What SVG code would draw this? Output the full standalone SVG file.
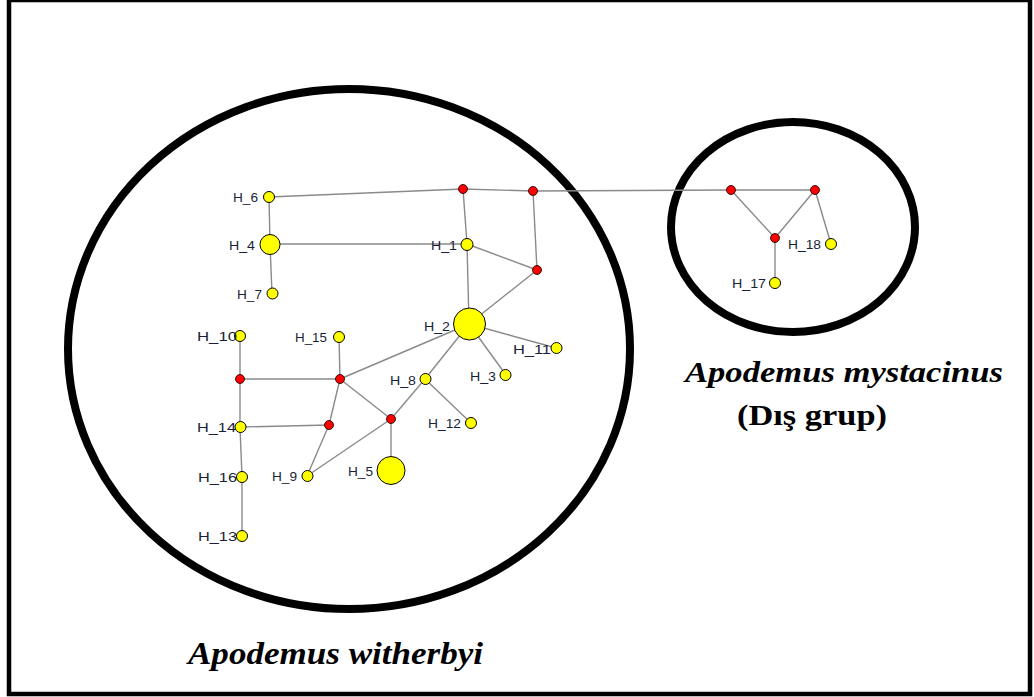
<svg xmlns="http://www.w3.org/2000/svg" width="1034" height="697" viewBox="0 0 1034 697">
<style>
.edge{stroke:#8a8a8a;stroke-width:1.4;fill:none}
.hap{fill:#ffff00;stroke:#000;stroke-width:1}
.med{fill:#ff0000;stroke:#000;stroke-width:0.8}
.lbl{font-family:"Liberation Sans",Arial,sans-serif;font-size:13.5px;fill:#1a1f38}
.title{font-family:"Liberation Serif","Times New Roman",serif;font-weight:bold;fill:#000}
.ring{fill:none;stroke:#000;stroke-width:8}
</style>
<rect x="0" y="0" width="1034" height="697" fill="#fff"/>
<rect x="9" y="0" width="1021" height="694" fill="none" stroke="#000" stroke-width="4.5"/>
<g id="group-witherbyi"><ellipse class="ring" cx="349" cy="349" rx="281" ry="260"/></g>
<g id="group-mystacinus"><ellipse class="ring" cx="793" cy="227" rx="122" ry="105"/></g>
<g id="connectors">
<polyline class="edge" points="269,197 463,189 533,191 731,190 815,190"/>
<line class="edge" x1="269" y1="197" x2="270" y2="244"/>
<line class="edge" x1="270" y1="244" x2="272" y2="294"/>
<line class="edge" x1="270" y1="244" x2="467" y2="244"/>
<line class="edge" x1="463" y1="189" x2="467" y2="244"/>
<line class="edge" x1="533" y1="191" x2="537" y2="270"/>
<line class="edge" x1="467" y1="244" x2="537" y2="270"/>
<line class="edge" x1="467" y1="244" x2="469" y2="324"/>
<line class="edge" x1="537" y1="270" x2="469" y2="324"/>
<line class="edge" x1="469" y1="324" x2="556" y2="348"/>
<line class="edge" x1="469" y1="324" x2="506" y2="375"/>
<line class="edge" x1="469" y1="324" x2="425" y2="379"/>
<line class="edge" x1="469" y1="324" x2="340" y2="379"/>
<line class="edge" x1="240" y1="336" x2="240" y2="379"/>
<line class="edge" x1="339" y1="337" x2="340" y2="379"/>
<line class="edge" x1="240" y1="379" x2="340" y2="379"/>
<line class="edge" x1="240" y1="379" x2="240" y2="427"/>
<line class="edge" x1="340" y1="379" x2="329" y2="425"/>
<line class="edge" x1="340" y1="379" x2="391" y2="419"/>
<line class="edge" x1="425" y1="379" x2="391" y2="419"/>
<line class="edge" x1="425" y1="379" x2="471" y2="423"/>
<line class="edge" x1="240" y1="427" x2="329" y2="425"/>
<line class="edge" x1="329" y1="425" x2="307" y2="476"/>
<line class="edge" x1="391" y1="419" x2="307" y2="476"/>
<line class="edge" x1="391" y1="419" x2="391" y2="470"/>
<line class="edge" x1="240" y1="427" x2="242" y2="477"/>
<line class="edge" x1="242" y1="477" x2="242" y2="536"/>
<line class="edge" x1="731" y1="190" x2="775" y2="238"/>
<line class="edge" x1="815" y1="190" x2="775" y2="238"/>
<line class="edge" x1="815" y1="190" x2="831" y2="244"/>
<line class="edge" x1="775" y1="238" x2="775" y2="283"/>
</g>
<g id="mv1"><circle class="med" cx="463" cy="189" r="4.5"/></g>
<g id="mv2"><circle class="med" cx="533" cy="191" r="4.5"/></g>
<g id="mv3"><circle class="med" cx="537" cy="270" r="4.5"/></g>
<g id="mv4"><circle class="med" cx="240" cy="379" r="4.5"/></g>
<g id="mv5"><circle class="med" cx="340" cy="379" r="4.5"/></g>
<g id="mv6"><circle class="med" cx="329" cy="425" r="4.5"/></g>
<g id="mv7"><circle class="med" cx="391" cy="419" r="4.5"/></g>
<g id="mv8"><circle class="med" cx="731" cy="190" r="4.5"/></g>
<g id="mv9"><circle class="med" cx="815" cy="190" r="4.5"/></g>
<g id="mv10"><circle class="med" cx="775" cy="238" r="4.5"/></g>
<g id="H_6"><circle class="hap" cx="269" cy="197" r="5.5"/><text class="lbl" x="233" y="201.5" textLength="25" lengthAdjust="spacingAndGlyphs">H_6</text></g>
<g id="H_4"><circle class="hap" cx="270" cy="244.5" r="10"/><text class="lbl" x="229" y="249.5" textLength="26" lengthAdjust="spacingAndGlyphs">H_4</text></g>
<g id="H_7"><circle class="hap" cx="272.5" cy="293.5" r="5.5"/><text class="lbl" x="237" y="298.5" textLength="25" lengthAdjust="spacingAndGlyphs">H_7</text></g>
<g id="H_1"><circle class="hap" cx="467" cy="244.5" r="6"/><text class="lbl" x="431" y="249.5" textLength="26" lengthAdjust="spacingAndGlyphs">H_1</text></g>
<g id="H_2"><circle class="hap" cx="469.5" cy="324" r="16"/><text class="lbl" x="424" y="330.5" textLength="26" lengthAdjust="spacingAndGlyphs">H_2</text></g>
<g id="H_10"><circle class="hap" cx="240" cy="336" r="5.5"/><text class="lbl" x="197" y="340.5" textLength="40" lengthAdjust="spacingAndGlyphs">H_10</text></g>
<g id="H_15"><circle class="hap" cx="339" cy="337" r="5.5"/><text class="lbl" x="295" y="341.5" textLength="32" lengthAdjust="spacingAndGlyphs">H_15</text></g>
<g id="H_11"><circle class="hap" cx="556.5" cy="348" r="5.5"/><text class="lbl" x="513" y="353.5" textLength="38" lengthAdjust="spacingAndGlyphs">H_11</text></g>
<g id="H_8"><circle class="hap" cx="425.5" cy="379" r="5.5"/><text class="lbl" x="390" y="384.5" textLength="26" lengthAdjust="spacingAndGlyphs">H_8</text></g>
<g id="H_3"><circle class="hap" cx="505.5" cy="375" r="5.5"/><text class="lbl" x="470" y="380.5" textLength="26" lengthAdjust="spacingAndGlyphs">H_3</text></g>
<g id="H_14"><circle class="hap" cx="240.5" cy="427" r="5.5"/><text class="lbl" x="197" y="431.5" textLength="39" lengthAdjust="spacingAndGlyphs">H_14</text></g>
<g id="H_12"><circle class="hap" cx="471" cy="423" r="5.5"/><text class="lbl" x="428" y="427.5" textLength="33" lengthAdjust="spacingAndGlyphs">H_12</text></g>
<g id="H_16"><circle class="hap" cx="242" cy="477" r="5.5"/><text class="lbl" x="198" y="481.5" textLength="39" lengthAdjust="spacingAndGlyphs">H_16</text></g>
<g id="H_9"><circle class="hap" cx="307.5" cy="476" r="5.5"/><text class="lbl" x="272" y="481" textLength="25" lengthAdjust="spacingAndGlyphs">H_9</text></g>
<g id="H_5"><circle class="hap" cx="391" cy="470.5" r="14"/><text class="lbl" x="348" y="475.5" textLength="25" lengthAdjust="spacingAndGlyphs">H_5</text></g>
<g id="H_13"><circle class="hap" cx="242" cy="536" r="5.5"/><text class="lbl" x="198" y="540.5" textLength="39" lengthAdjust="spacingAndGlyphs">H_13</text></g>
<g id="H_18"><circle class="hap" cx="831" cy="244" r="5.5"/><text class="lbl" x="788" y="249" textLength="33" lengthAdjust="spacingAndGlyphs">H_18</text></g>
<g id="H_17"><circle class="hap" cx="775" cy="283" r="5.5"/><text class="lbl" x="732" y="287.5" textLength="34" lengthAdjust="spacingAndGlyphs">H_17</text></g>
<text class="title" x="685" y="382" font-size="30" font-style="italic" textLength="318" lengthAdjust="spacingAndGlyphs">Apodemus mystacinus</text>
<text class="title" x="737" y="425" font-size="29" textLength="150" lengthAdjust="spacingAndGlyphs">(Dış grup)</text>
<text class="title" x="188" y="664" font-size="31" font-style="italic" textLength="295" lengthAdjust="spacingAndGlyphs">Apodemus witherbyi</text>
</svg>
